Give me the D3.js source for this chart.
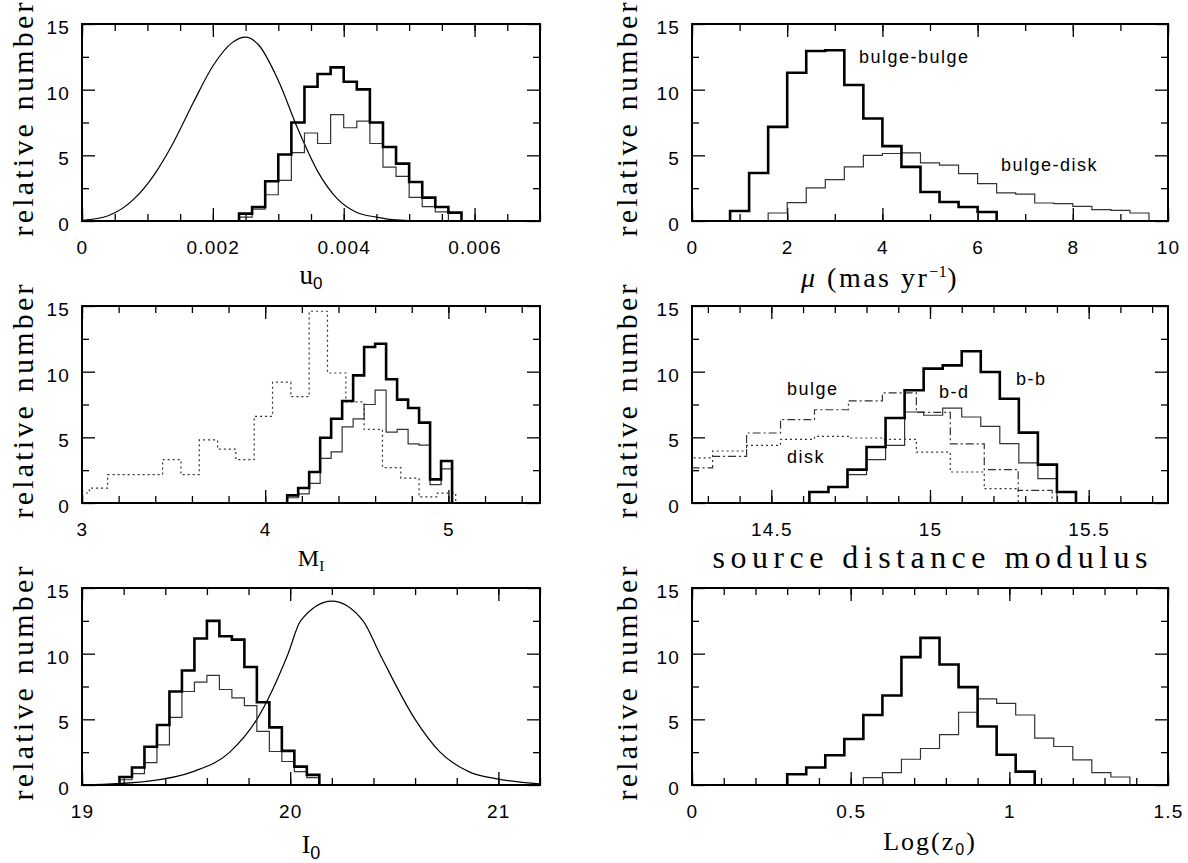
<!DOCTYPE html>
<html>
<head>
<meta charset="utf-8">
<script src="https://cdn.jsdelivr.net/npm/d3@7"></script>
<style>
  body { margin: 0; background: #fff; }
  .tick-label { font-family: "Liberation Sans", Arial, sans-serif; font-size: 19px; letter-spacing: 1.2px; fill: #000; }
  .note { font-family: "Liberation Sans", Arial, sans-serif; font-size: 18px; letter-spacing: 1.5px; fill: #000; }
  .title { font-family: "Liberation Serif", "Times New Roman", serif; fill: #000; }
</style>
</head>
<body>
<svg id="chart" width="1188" height="863"></svg>
<script>
// ---- panel 1: u0 ----
var u0Ticks = [0, 0.002, 0.004, 0.006]
var u0Lo = 0.0024, u0Bin = 0.0002
var u0Thick = [0.56, 1.07, 3.03, 5.06, 7.5, 10.22, 11.19, 11.7, 10.6, 10.02, 7.5, 5.64, 4.37, 2.97, 1.78, 1.07, 0.64]
var u0Thin = [0.3, 0.9, 2.0, 3.1, 5.2, 6.7, 5.9, 8.1, 7.1, 7.6, 5.9, 4.1, 3.4, 1.8, 1.1, 0.7]
var u0CurveX = [0, 0.0004, 0.0008, 0.0011, 0.0014, 0.0017, 0.002, 0.0023, 0.0025, 0.0027, 0.003, 0.0033, 0.0036, 0.0039, 0.0042, 0.0045, 0.0048, 0.0052, 0.006, 0.007]
var u0CurveY = [0.04, 0.4, 1.7, 3.5, 6.0, 9.0, 11.8, 13.6, 14.0, 13.4, 10.7, 7.0, 3.8, 1.7, 0.65, 0.3, 0.08, 0.01, 0, 0]

// ---- panel 2: proper motion ----
var muTicks = [0, 2, 4, 6, 8, 10]
var muBin = 0.4
var muBBLo = 0.8
var muBB = [0.76, 3.66, 7.17, 11.29, 12.94, 13.0, 10.35, 7.8, 5.7, 4.12, 2.21, 1.45, 1.07, 0.69]
var muBDLo = 1.6
var muBD = [0.61, 1.4, 2.52, 3.15, 4.12, 5.0, 5.14, 5.19, 4.42, 4.25, 3.61, 2.85, 2.14, 2.05, 1.37, 1.32, 1.12, 0.86, 0.81, 0.61]

// ---- panel 3: M_I ----
var miTicks = [3, 4, 5]
var miLo = 4.12, miBin = 0.06
var miThick = [0.58, 1.14, 2.36, 4.97, 6.42, 7.77, 9.72, 11.88, 12.13, 9.42, 7.87, 7.23, 6.12, 1.8, 3.2]
var miThin = [0.4, 0.7, 1.5, 3.4, 3.9, 5.8, 6.4, 7.5, 8.6, 5.4, 5.6, 4.5, 4.4, 1.4, 2.6]
var miDotLo = 2.94, miDotBin = 0.1
var miDot = [0.76, 1.14, 2.16, 2.16, 2.16, 3.3, 2.16, 4.8, 4.1, 3.3, 6.6, 9.2, 8.1, 14.6, 9.9, 7.7, 5.6, 2.7, 1.9, 0.46, 0.75]

// ---- panel 4: source distance modulus ----
var dmTicks = [14.5, 15, 15.5]
var dmLo = 14.62, dmBin = 0.06
var dmBB = [0.84, 1.22, 2.54, 4.26, 6.47, 8.58, 10.23, 10.48, 11.55, 9.97, 7.94, 5.36, 2.92, 0.84]
var dmBD = [0.8, 1.2, 2.16, 3.3, 4.39, 6.93, 6.68, 7.23, 6.55, 5.84, 4.52, 3.05, 1.85]
var dmPopLo = 14.208, dmPopBin = 0.107
var dmBulge = [2.67, 3.55, 5.33, 6.35, 7.1, 7.77, 8.38, 6.9, 4.5, 2.54, 0.96]
var dmDisk = [3.43, 3.96, 4.39, 4.85, 5.08, 4.95, 4.85, 3.88, 2.36, 1.09]

// ---- panel 5: I0 ----
var i0Ticks = [19, 20, 21]
var i0Lo = 19.18, i0Bin = 0.06
var i0Thick = [0.61, 1.33, 2.91, 4.57, 7.12, 8.72, 11.15, 12.5, 11.33, 11.07, 8.98, 6.3, 4.39, 2.6, 1.4, 0.77]
var i0Thin = [0.4, 0.87, 1.71, 3.06, 5.15, 7.12, 7.83, 8.34, 7.27, 6.63, 6.05, 4.08, 2.55, 1.79, 1.02, 0.56]
var i0CurveX = [19, 19.32, 19.53, 19.71, 19.84, 19.99, 20.05, 20.2, 20.35, 20.43, 20.6, 20.72, 20.86, 21.0, 21.2]
var i0CurveY = [0, 0.3, 1, 2.5, 5, 10, 12.5, 14, 12.5, 10, 5, 2.5, 1, 0.45, 0.08]

// ---- panel 6: Log(z0) ----
var lzTicks = [0, 0.5, 1, 1.5]
var lzBin = 0.06
var lzThickLo = 0.30
var lzThick = [0.82, 1.33, 2.27, 3.5, 5.33, 6.81, 9.74, 11.2, 9.18, 7.45, 4.46, 2.3, 1.02]
var lzThinLo = 0.54
var lzThin = [0.56, 0.94, 1.96, 2.78, 3.83, 5.54, 6.56, 6.22, 5.33, 3.57, 2.93, 1.91, 0.94, 0.61]

var yTicks = [0, 5, 10, 15]

// layout
var colX = [82, 692], colW = [458, 476]
var rowY = [24, 306, 588], rowH = 197
var yTitleX = [33, 637]

var svg = d3.select("#chart")
var defs = svg.append("defs")

function minorValues(domain, step) {
    var k0 = Math.ceil(domain[0] / step - 1e-6), k1 = Math.floor(domain[1] / step + 1e-6)
    return d3.range(k0, k1 + 1).map(function(k) { return +(k * step).toFixed(6) })
}

function styleAxis(a) {
    a.select(".domain").remove()
    a.attr("font-family", null).attr("font-size", null)
    a.selectAll("line").attr("stroke", "#000").attr("stroke-width", 1.3)
    a.selectAll("text").attr("class", "tick-label").attr("fill", null)
    return a
}

function panel(id, col, row, domain, minorStep, majors, fmt) {
    var left = colX[col], top = rowY[row], w = colW[col]
    var x = d3.scaleLinear().domain(domain).range([left, left + w])
    var y = d3.scaleLinear().domain([0, 15]).range([top + rowH, top])
    var g = svg.append("g")

    defs.append("clipPath").attr("id", "clip" + id)
        .append("rect").attr("x", left).attr("y", top).attr("width", w).attr("height", rowH)

    var minors = minorValues(domain, minorStep)
    var bottom = top + rowH

    styleAxis(g.append("g").attr("transform", "translate(0," + bottom + ")")
        .call(d3.axisBottom(x).tickValues(minors).tickSize(-7).tickFormat("")))
    styleAxis(g.append("g").attr("transform", "translate(0," + bottom + ")")
        .call(d3.axisBottom(x).tickValues(majors).tickSize(-13).tickPadding(20).tickFormat(fmt)))
    styleAxis(g.append("g").attr("transform", "translate(0," + top + ")")
        .call(d3.axisTop(x).tickValues(minors).tickSize(-7).tickFormat("")))
    styleAxis(g.append("g").attr("transform", "translate(0," + top + ")")
        .call(d3.axisTop(x).tickValues(majors).tickSize(-13).tickFormat("")))

    var yMinor = [2.5, 7.5, 12.5]
    styleAxis(g.append("g").attr("transform", "translate(" + left + ",0)")
        .call(d3.axisLeft(y).tickValues(yMinor).tickSize(-7).tickFormat("")))
    styleAxis(g.append("g").attr("transform", "translate(" + left + ",0)")
        .call(d3.axisLeft(y).tickValues(yTicks).tickSize(-13).tickPadding(12).tickFormat(d3.format("d"))))
        .selectAll("text").attr("dy", "0.5em")
    styleAxis(g.append("g").attr("transform", "translate(" + (left + w) + ",0)")
        .call(d3.axisRight(y).tickValues(yMinor).tickSize(-7).tickFormat("")))
    styleAxis(g.append("g").attr("transform", "translate(" + (left + w) + ",0)")
        .call(d3.axisRight(y).tickValues(yTicks).tickSize(-13).tickFormat("")))

    g.append("rect").attr("x", left).attr("y", top).attr("width", w).attr("height", rowH)
        .attr("fill", "none").attr("stroke", "#000").attr("stroke-width", 2)

    g.append("text").attr("class", "title")
        .attr("transform", "translate(" + yTitleX[col] + "," + (top + rowH / 2 - 3) + ") rotate(-90)")
        .attr("text-anchor", "middle")
        .attr("font-size", 30)
        .attr("textLength", 234).attr("lengthAdjust", "spacing")
        .text("relative number")

    var plot = g.append("g").attr("clip-path", "url(#clip" + id + ")")
    return { x: x, y: y, g: g, plot: plot, cx: left + w / 2, bottom: bottom }
}

function stepPoints(lo, bin, vals) {
    var pts = [[lo, 0]]
    vals.forEach(function(v, i) {
        pts.push([lo + i * bin, v])
        pts.push([lo + (i + 1) * bin, v])
    })
    pts.push([lo + vals.length * bin, 0])
    return pts
}

function hist(p, lo, bin, vals, kind) {
    var line = d3.line().x(function(d) { return p.x(d[0]) }).y(function(d) { return p.y(d[1]) })
    var path = p.plot.append("path").datum(stepPoints(lo, bin, vals))
        .attr("d", line).attr("fill", "none").attr("stroke-linejoin", "miter")
    if (kind === "thick") path.attr("stroke", "#000").attr("stroke-width", 2.6)
    else path.attr("stroke", "#333").attr("stroke-width", 1.2)
    if (kind === "dot") path.attr("stroke-dasharray", "2,3")
    if (kind === "dashdot") path.attr("stroke-dasharray", "8,3,2,3")
    return path
}

function curve(p, xs, ys) {
    var line = d3.line().curve(d3.curveMonotoneX)
        .x(function(d, i) { return p.x(d) }).y(function(d, i) { return p.y(ys[i]) })
    p.plot.append("path").datum(xs).attr("d", line)
        .attr("fill", "none").attr("stroke", "#000").attr("stroke-width", 1.2)
}

function note(p, txt, x, y) {
    p.g.append("text").attr("class", "note").attr("x", x).attr("y", y).text(txt)
}

var fmtG = d3.format("~g")

// panel 1
var p1 = panel(1, 0, 0, [0, 0.007], 0.0005, u0Ticks, fmtG)
curve(p1, u0CurveX, u0CurveY)
hist(p1, u0Lo, u0Bin, u0Thin, "thin")
hist(p1, u0Lo, u0Bin, u0Thick, "thick")
var t1 = p1.g.append("text").attr("class", "title").attr("x", p1.cx).attr("y", 284)
    .attr("text-anchor", "middle").attr("font-size", 27)
t1.append("tspan").text("u")
t1.append("tspan").attr("font-size", 17).attr("dy", 5).attr("font-family", "Liberation Sans").text("0")

// panel 2
var p2 = panel(2, 1, 0, [0, 10], 1, muTicks, fmtG)
hist(p2, muBDLo, muBin, muBD, "thin")
hist(p2, muBBLo, muBin, muBB, "thick")
note(p2, "bulge-bulge", 859, 63)
note(p2, "bulge-disk", 1001, 171)
var t2 = p2.g.append("text").attr("class", "title").attr("x", 801).attr("y", 287)
    .attr("font-size", 28).attr("letter-spacing", 2.5)
t2.append("tspan").attr("font-style", "italic").text("μ")
t2.append("tspan").text(" (mas yr")
t2.append("tspan").attr("font-size", 16).attr("dy", -10).attr("letter-spacing", 0.5).text("−1")
t2.append("tspan").attr("dy", 10).text(")")

// panel 3
var p3 = panel(3, 0, 1, [3, 5.5], 0.2, miTicks, fmtG)
hist(p3, miDotLo, miDotBin, miDot, "dot")
hist(p3, miLo, miBin, miThin, "thin")
hist(p3, miLo, miBin, miThick, "thick")
var t3 = p3.g.append("text").attr("class", "title").attr("x", p3.cx).attr("y", 566)
    .attr("text-anchor", "middle").attr("font-size", 24)
t3.append("tspan").text("M")
t3.append("tspan").attr("font-size", 15).attr("dy", 5).text("I")

// panel 4
var p4 = panel(4, 1, 1, [14.25, 15.75], 0.1, dmTicks, fmtG)
hist(p4, dmPopLo, dmPopBin, dmDisk, "dot")
hist(p4, dmPopLo, dmPopBin, dmBulge, "dashdot")
hist(p4, dmLo, dmBin, dmBD, "thin")
hist(p4, dmLo, dmBin, dmBB, "thick")
note(p4, "bulge", 787, 395)
note(p4, "disk", 787, 463)
note(p4, "b-d", 939, 398)
note(p4, "b-b", 1016, 385)
p4.g.append("text").attr("class", "title").attr("x", p4.cx).attr("y", 568)
    .attr("text-anchor", "middle").attr("font-size", 32)
    .attr("textLength", 435).attr("lengthAdjust", "spacing")
    .text("source distance modulus")

// panel 5
var p5 = panel(5, 0, 2, [19, 21.2], 0.2, i0Ticks, fmtG)
curve(p5, i0CurveX, i0CurveY)
hist(p5, i0Lo, i0Bin, i0Thin, "thin")
hist(p5, i0Lo, i0Bin, i0Thick, "thick")
var t5 = p5.g.append("text").attr("class", "title").attr("x", p5.cx).attr("y", 853)
    .attr("text-anchor", "middle").attr("font-size", 26)
t5.append("tspan").text("I")
t5.append("tspan").attr("font-size", 18).attr("dy", 6).attr("font-family", "Liberation Sans").text("0")

// panel 6
var p6 = panel(6, 1, 2, [0, 1.5], 0.1, lzTicks, fmtG)
hist(p6, lzThinLo, lzBin, lzThin, "thin")
hist(p6, lzThickLo, lzBin, lzThick, "thick")
var t6 = p6.g.append("text").attr("class", "title").attr("x", p6.cx).attr("y", 850)
    .attr("text-anchor", "middle").attr("font-size", 26).attr("letter-spacing", 2)
t6.append("tspan").text("Log(z")
t6.append("tspan").attr("font-size", 16).attr("dy", 5).attr("font-family", "Liberation Sans").text("0")
t6.append("tspan").attr("dy", -5).text(")")
</script>
</body>
</html>
